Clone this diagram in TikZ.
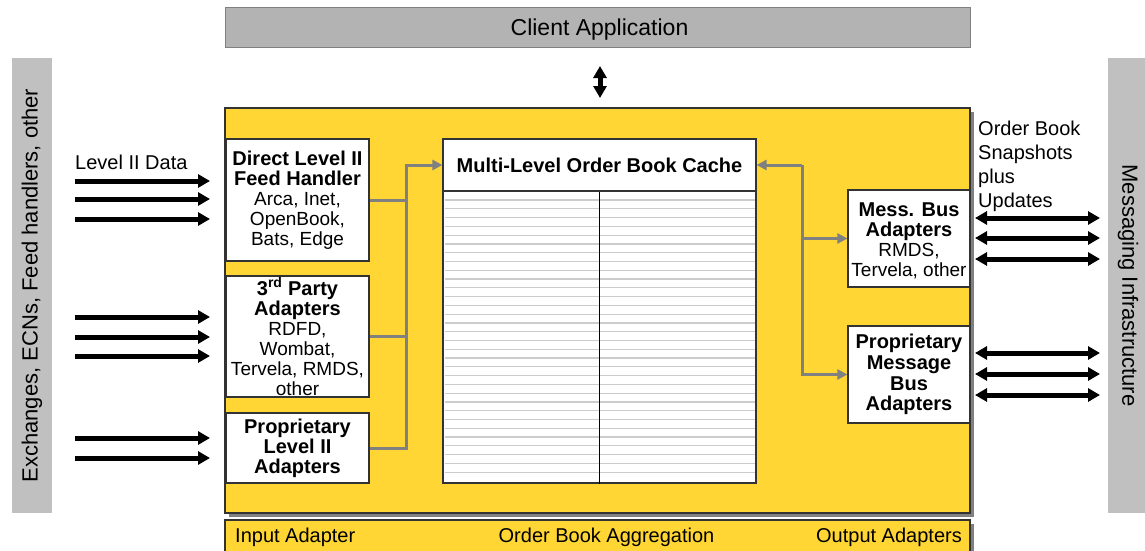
\documentclass[tikz,border=0pt]{standalone}
\usepackage{fontspec}
\setmainfont{Liberation Sans}
\usetikzlibrary{arrows.meta,shadows}
\definecolor{gold}{HTML}{FFD633}
\definecolor{sidegray}{HTML}{C0C0C0}
\definecolor{clientgray}{HTML}{B3B3B3}
\definecolor{linkgray}{HTML}{808080}
\definecolor{rulegray}{HTML}{CCCCCC}
\definecolor{edgedark}{HTML}{333333}
\newcommand{\sm}{\fontsize{19}{20}\selectfont}
\begin{document}
\begin{tikzpicture}[x=1pt,y=-1pt,
  every node/.style={font=\fontsize{20}{20}\selectfont, inner sep=0pt},
  sidebar/.style={fill=sidegray, font=\fontsize{22}{22}\selectfont},
  whitebox/.style={draw=edgedark, fill=white, line width=1.2pt, align=center},
  goldbox/.style={draw=edgedark, fill=gold, line width=1.2pt,
    drop shadow={shadow xshift=3.5pt, shadow yshift=-3.5pt, fill=black!50, opacity=1}},
  bigarrow/.style={line width=5pt, -{Triangle[length=12pt,width=13pt]}},
  bigdbl/.style={line width=5pt, {Triangle[length=12pt,width=13pt]}-{Triangle[length=12pt,width=13pt]}},
  glink/.style={draw=linkgray, line width=3pt, -{Triangle[length=10pt,width=10pt]}},
  gline/.style={draw=linkgray, line width=3pt},
  rowline/.style={draw=rulegray, line width=1.2pt}
]
\useasboundingbox (0,0) rectangle (1145,551);

% side bars
\node[sidebar, rotate=90, minimum width=455pt, minimum height=40pt] (src) at (32,285.5)
  {Exchanges, ECNs, Feed handlers, other};
\node[sidebar, rotate=-90, minimum width=455pt, minimum height=40pt] (msg) at (1128,285.5)
  {Messaging Infrastructure};

% client application
\node[draw=linkgray, fill=clientgray, line width=1pt, minimum width=745pt, minimum height=40pt]
  (client) at (597.5,28) {};
\node[font=\fontsize{23}{23}\selectfont] (clientlbl) at (599.5,30) {Client Application};

% main gold box
\node[goldbox, minimum width=745pt, minimum height=405pt] (core) at (597.5,310.5) {};

% bottom bar
\node[goldbox, minimum width=745pt, minimum height=34pt] (bar) at (597.5,537) {};
\node[anchor=west] (inlbl) at (235,537.5) {Input Adapter};
\node (agglbl) at (606.5,537.5) {Order Book Aggregation};
\node[anchor=east] (outlbl) at (962,537.5) {Output Adapters};

% client arrow
\coordinate (va) at (600,66);
\coordinate (vb) at (600,98);
\draw[bigdbl] (va) -- (vb);

% input boxes
\node[whitebox, minimum width=143pt, minimum height=122pt] (direct) at (297.5,200)
  {\raisebox{0pt}{}\textbf{Direct Level II}\\\textbf{Feed Handler}\\\sm Arca, Inet,\\\sm OpenBook,\\\sm Bats, Edge};
\node[whitebox, minimum width=143pt, minimum height=121pt] (third) at (297.5,336.5)
  {\textbf{3\textsuperscript{rd} Party}\\\textbf{Adapters}\\\sm RDFD,\\\sm Wombat,\\\sm Tervela, RMDS,\\\sm other};
\node[whitebox, minimum width=143pt, minimum height=70pt] (propl2) at (297.5,448)
  {\textbf{Proprietary}\\\textbf{Level II}\\\textbf{Adapters}};

% cache
\node[whitebox, minimum width=313pt, minimum height=292pt] (cachebody) at (599.5,337) {};
\foreach \k in {0,...,31} {
  \draw[rowline] (444.5,{200+\k*8.78}) -- (754.5,{200+\k*8.78});
}
\draw[line width=1.6pt, black] (cachebody.north) -- (cachebody.south);
\node[whitebox, minimum width=313pt, minimum height=52pt] (cachehead) at (599.5,165)
  {\textbf{Multi-Level Order Book Cache}};

% output boxes
\node[whitebox, minimum width=122pt, minimum height=97pt] (messbus) at (909,238.5) {};
\node[align=center] (messbuslbl) at (909,241)
  {\textbf{Mess. Bus}\\\textbf{Adapters}\\\sm RMDS,\\\sm Tervela, other};
\node[whitebox, minimum width=122pt, minimum height=97pt, font=\fontsize{20}{20.8}\selectfont]
  (propmsg) at (909,374.5)
  {\textbf{Proprietary}\\\textbf{Message}\\\textbf{Bus}\\\textbf{Adapters}};

% gray connectors, input side
\coordinate (ljoin) at (406,165);
\draw[gline] (direct.east) -- (direct.east -| ljoin);
\draw[gline] (third.east) -- (third.east -| ljoin);
\draw[glink] (propl2.east) -| (ljoin) -- (cachehead.west);

% gray connectors, output side
\coordinate (rjoin) at (802,165);
\draw[glink] (rjoin) -- (cachehead.east);
\draw[glink] (rjoin) |- (messbus.west);
\draw[glink] (rjoin) |- (propmsg.west);

% level II data
\node[anchor=west] (l2lbl) at (75,162) {Level II Data};
\foreach \y [count=\i] in {181,199,219,317,337,356,438,458} {
  \coordinate (ina\i) at (75,\y);
  \coordinate (inb\i) at (210,\y);
  \draw[bigarrow] (ina\i) -- (inb\i);
}

% output label and arrows
\node[anchor=north west, align=left, font=\fontsize{20}{24}\selectfont] (snaplbl) at (978,121)
  {Order Book\\Snapshots\\plus\\Updates};
\foreach \y [count=\i] in {218,238,259,353,374,395} {
  \coordinate (outa\i) at (975,\y);
  \coordinate (outb\i) at (1100,\y);
  \draw[bigdbl] (outa\i) -- (outb\i);
}
\end{tikzpicture}
\end{document}
